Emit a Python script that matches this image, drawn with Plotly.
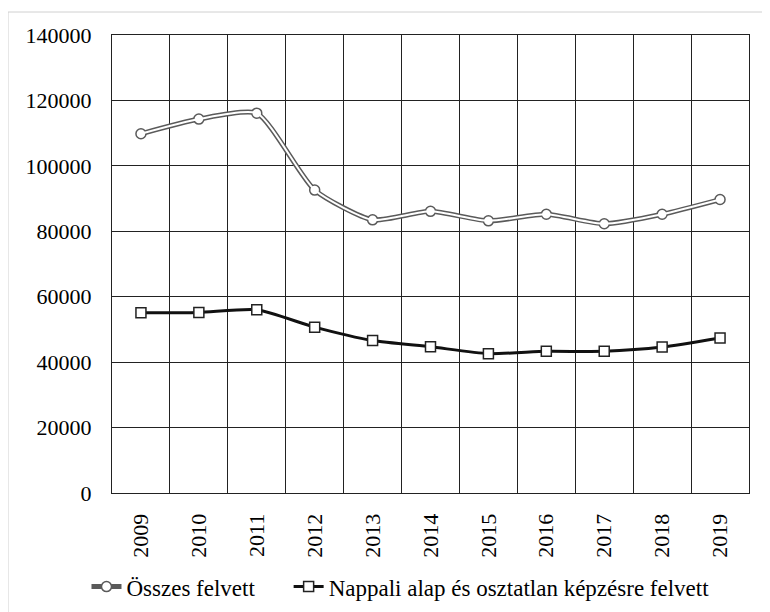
import plotly.graph_objects as go

years = ["2009", "2010", "2011", "2012", "2013", "2014", "2015", "2016", "2017", "2018", "2019"]
osszes = [109800, 114300, 116100, 92600, 83500, 86100, 83200, 85200, 82300, 85200, 89700]
nappali = [55100, 55200, 56000, 50700, 46600, 44700, 42600, 43300, 43300, 44600, 47400]

font = "Liberation Serif, Times New Roman, serif"
pad = "\u00a0" * 5  # wider gap between the two legend entries

fig = go.Figure()

# double line look: thick grey line with a thin white line on top
fig.add_trace(go.Scatter(
    x=years, y=osszes, name="Összes felvett" + pad, mode="lines+markers",
    line=dict(color="#5a5a5a", width=5, shape="spline", smoothing=0.6),
    marker=dict(symbol="circle", size=10, color="white", line=dict(color="#5a5a5a", width=1.5)),
))
fig.add_trace(go.Scatter(
    x=years, y=osszes, mode="lines", showlegend=False, hoverinfo="skip",
    line=dict(color="white", width=2, shape="spline", smoothing=0.6),
))
fig.add_trace(go.Scatter(
    x=years, y=nappali, name="Nappali alap és osztatlan képzésre felvett", mode="lines+markers",
    line=dict(color="#111111", width=3, shape="spline", smoothing=0.6),
    marker=dict(symbol="square", size=10, color="white", line=dict(color="#222222", width=1.5)),
))

fig.update_xaxes(
    type="category", tickson="boundaries", range=[-0.5, 10.5],
    showgrid=True, gridcolor="#222", gridwidth=1,
    showline=True, linecolor="#222", linewidth=1, mirror=True,
    tickangle=-90, tickfont=dict(family=font, size=22, color="black"),
    ticks="", automargin=False, ticklabelstandoff=11,
)
fig.update_yaxes(
    range=[0, 140000], dtick=20000, tickformat="d", showgrid=True, gridcolor="#222", gridwidth=1,
    showline=True, linecolor="#222", linewidth=1, mirror=True, zeroline=False,
    tickfont=dict(family=font, size=22, color="black"), ticks="", automargin=False,
    ticklabelstandoff=15,
)

# light frame around the picture
fig.add_shape(type="rect", xref="paper", yref="paper",
              x0=-104 / 637, x1=1 + 40 / 637, y0=-140 / 458, y1=1 + 23 / 458,
              line=dict(color="#d0d0d0", width=1))

# page body keeps an 8px margin, so the figure is 8px smaller each way
fig.update_layout(
    width=762, height=604,
    margin=dict(l=104, r=21, t=27, b=119),
    paper_bgcolor="white", plot_bgcolor="white",
    font=dict(family=font, size=22, color="black"),
    showlegend=True,
    legend=dict(orientation="h", xref="container", yref="container",
                x=0.103, xanchor="left", y=0.042, yanchor="middle",
                font=dict(family=font, size=23, color="black"),
                tracegroupgap=0, bgcolor="rgba(0,0,0,0)"),
)

fig.write_html("out.html")
